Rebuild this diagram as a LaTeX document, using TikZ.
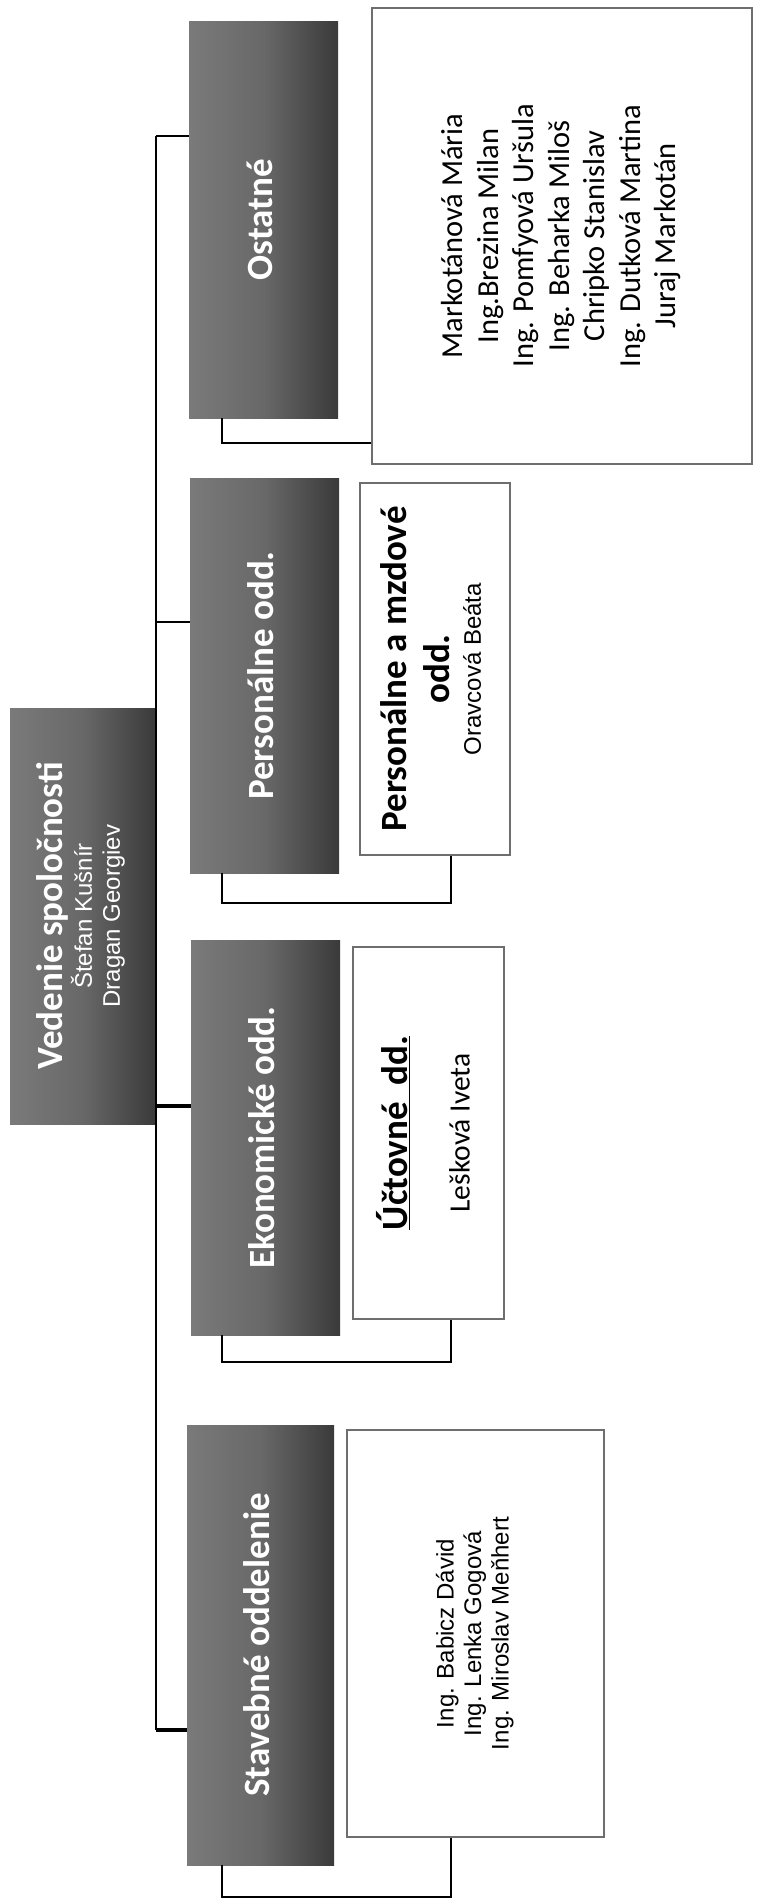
\documentclass[tikz,border=0pt]{standalone}
\usepackage{fontspec}
\setmainfont{Carlito}
\newfontfamily\arialf{Liberation Sans}
\usepackage{graphicx}
\definecolor{hdrL}{RGB}{122,122,122}
\definecolor{hdrM}{RGB}{104,104,104}
\definecolor{hdrR}{RGB}{58,58,58}
\definecolor{wborder}{RGB}{110,110,110}
\newcommand{\rt}[1]{\rotatebox{90}{\begin{tabular}{@{}c@{}}#1\end{tabular}}}
\tikzset{
  hdr/.style={inner sep=0pt, left color=hdrL, right color=hdrR, middle color=hdrM,
              text=white, font=\fontsize{37}{45}\selectfont\bfseries},
  wbox/.style={draw=wborder, line width=2.5pt, fill=white, inner sep=0pt},
  conn/.style={line width=1.6pt, draw=black},
  mainconn/.style={line width=3.5pt, draw=black}
}
\begin{document}
\begin{tikzpicture}[x=1pt,y=-1pt]
\fill[white] (0,0) rectangle (756,1901);
\useasboundingbox (0,0) rectangle (756,1901);

% top management
\node[hdr, minimum width=145pt, minimum height=416pt, font=\fontsize{24}{28}\selectfont] (ved) at (82.5,916)
 {\rt{\fontsize{37}{42}\selectfont\bfseries Vedenie spoločnosti\\ \arialf Štefan Kušnír\\ \arialf Dragan Georgiev}};

% department headers
\node[hdr, minimum width=149pt, minimum height=397pt] (ost) at (263.5,219.5) {\rt{Ostatné}};
\node[hdr, minimum width=149pt, minimum height=395pt] (per) at (264.5,675.5) {\rt{Personálne odd.}};
\node[hdr, minimum width=149pt, minimum height=395pt] (eko) at (265.5,1137.5) {\rt{Ekonomické odd.}};
\node[hdr, minimum width=147pt, minimum height=440pt] (sta) at (260.5,1645) {\rt{Stavebné oddelenie}};

% white boxes
\node[wbox, minimum width=380pt, minimum height=456pt, font=\fontsize{30.5}{35.5}\selectfont] (ostw) at (562,236)
 {\rt{Markotánová Mária\\ Ing.Brezina Milan\\ Ing. Pomfyová Uršula\\ Ing. Beharka Miloš\\ Chripko Stanislav\\ Ing. Dutková Martina\\ Juraj Markotán}};
\node[wbox, minimum width=150pt, minimum height=372pt, font=\fontsize{24}{28}\selectfont] (perw) at (435,669)
 {\rt{\fontsize{37}{45}\selectfont\bfseries Personálne a mzdové\\[9pt] \fontsize{37}{45}\selectfont\bfseries odd.\\[3pt] \arialf Oravcová Beáta}};
\node[wbox, minimum width=151pt, minimum height=372pt, font=\fontsize{29.5}{36}\selectfont] (ekow) at (428.5,1133)
 {\rt{\fontsize{37}{45}\selectfont\bfseries \underline{Účtovné\ \ dd.}\\[26pt] Lešková Iveta}};
\node[wbox, minimum width=257pt, minimum height=407pt, font=\fontsize{24}{27.5}\selectfont\arialf] (staw) at (475.5,1633.5)
 {\rt{Ing. Babicz Dávid\\ Ing. Lenka Gogová\\ Ing. Miroslav Meňhert}};

% helper coordinates
\coordinate (b1) at (156,136);
\coordinate (b2) at (156,622);
\coordinate (b3) at (156,1106);
\coordinate (b4) at (156,1730);
\coordinate (cx) at (222,0);
\coordinate (cw) at (451,0);
\coordinate (ob) at (0,443);
\coordinate (pb) at (0,903);
\coordinate (eb) at (0,1362);
\coordinate (sb) at (0,1897);

% spine and branches
\draw[conn] (b1) -- (b4);
\draw[conn] (b1) -- (b1 -| ost.west);
\draw[conn] (b2) -- (b2 -| per.west);
\draw[mainconn] (ved.east |- b3) -- (b3 -| eko.west);
\draw[mainconn] (b4) -- (b4 -| sta.west);

% brackets to sub-boxes
\draw[conn] (ost.south -| cx) |- (ostw.west |- ob);
\draw[conn] (per.south -| cx) |- (pb -| cw) -- (perw.south -| cw);
\draw[conn] (eko.south -| cx) |- (eb -| cw) -- (ekow.south -| cw);
\draw[conn] (sta.south -| cx) |- (sb -| cw) -- (staw.south -| cw);
\end{tikzpicture}
\end{document}
